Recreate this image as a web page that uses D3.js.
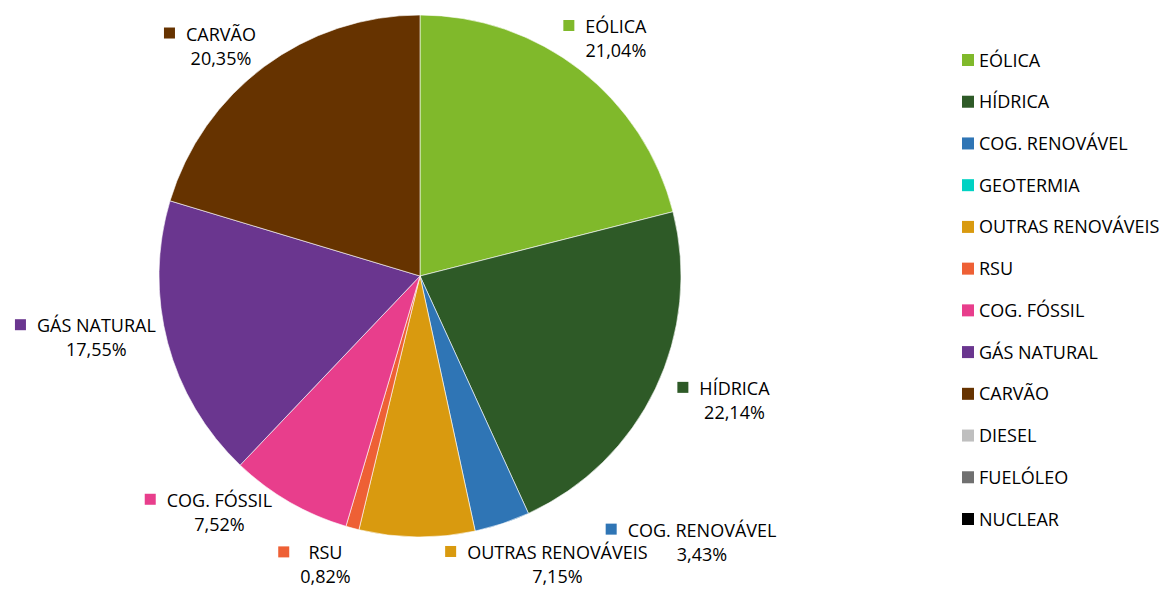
<!DOCTYPE html>
<html>
<head>
<meta charset="utf-8">
<script src="https://cdn.jsdelivr.net/npm/d3@7"></script>
<style>
  body { margin: 0; background: #fff; }
  svg { display: block; font-family: "Open Sans", sans-serif; }
</style>
</head>
<body>
<div class="pie_chart"></div>
<script>
let width = 1170
let height = 589

// fontes de energia e quota (%) na produção
let sources = ['EÓLICA', 'HÍDRICA', 'COG. RENOVÁVEL', 'GEOTERMIA', 'OUTRAS RENOVÁVEIS', 'RSU',
               'COG. FÓSSIL', 'GÁS NATURAL', 'CARVÃO', 'DIESEL', 'FUELÓLEO', 'NUCLEAR']
let shares  = [21.04, 22.14, 3.43, 0, 7.15, 0.82, 7.52, 17.55, 20.35, 0, 0, 0]
let colors  = ['#80b92b', '#2e5a27', '#2f75b5', '#00d2c3', '#d99a0f', '#ee6035',
               '#e83e8c', '#6a368f', '#663300', '#bfbfbf', '#707070', '#000000']

// excel moved the labels round to stop them overlapping
let labelNudge = {
    'EÓLICA': [-6, 8],
    'HÍDRICA': [23, -10],
    'COG. RENOVÁVEL': [173, -29],
    'OUTRAS RENOVÁVEIS': [130, -22.5],
    'RSU': [-25, -11.5],
    'COG. FÓSSIL': [-56, -33],
    'GÁS NATURAL': [-34, -18],
    'CARVÃO': [-24.5, 19.6]
}

let cx = 420
let cy = 276
let radius = 261

let locale = d3.formatLocale({ decimal: ",", thousands: ".", grouping: [3], currency: ["", "€"] })
let fmt = locale.format(".2f")

let color = d3.scaleOrdinal()
    .domain(sources)
    .range(colors)

let pie = d3.pie()
    .sort(null)
    .value(d => d.value)

let arc = d3.arc()
    .innerRadius(0)
    .outerRadius(radius)

let data = sources.map((name, i) => ({ name, value: shares[i] }))
let arcs = pie(data)

const svg = d3.create("svg")
    .attr("width", width)
    .attr("height", height)

const g = svg.append("g")
    .attr("transform", `translate(${cx},${cy})`)

g.selectAll("path")
    .data(arcs.filter(d => d.data.value > 0))
    .join("path")
    .attr("fill", d => color(d.data.name))
    .attr("stroke", "#ffffff")
    .attr("stroke-width", 0.6)
    .attr("d", arc)

d3.select(".pie_chart").node().append(svg.node())

// data labels
let labelArc = d3.arc()
    .innerRadius(radius + 50)
    .outerRadius(radius + 50)

const labels = g.append("g")
    .attr("font-size", 18)
    .attr("fill", "#000")
    .selectAll("g")
    .data(arcs.filter(d => d.data.value > 0))
    .join("g")

labels.each(function(d) {
    const lab = d3.select(this)
    const name = lab.append("text").text(d.data.name)
    const pct = lab.append("text").text(fmt(d.data.value) + "%")
    const tw = Math.max(name.node().getComputedTextLength(), pct.node().getComputedTextLength())
    const blockW = 22 + tw
    const [px, py] = labelArc.centroid(d)
    const nudge = labelNudge[d.data.name] || [0, 0]
    const bx = px + nudge[0] - blockW / 2   // left edge of marker
    const by = py + nudge[1]                // middle of the block
    const textMid = bx + 22 + tw / 2
    name.attr("x", textMid).attr("y", by - 5.5).attr("text-anchor", "middle")
    pct.attr("x", textMid).attr("y", by + 18.5).attr("text-anchor", "middle")
    lab.append("rect")
        .attr("x", bx)
        .attr("y", by - 5.5 - 13)
        .attr("width", 11)
        .attr("height", 11)
        .attr("fill", color(d.data.name))
})

// legend
let legendY = d3.scalePoint()
    .domain(sources)
    .range([60, 519])

const legend = svg.append("g")
    .attr("font-size", 18)
    .attr("fill", "#000")
    .selectAll("g")
    .data(sources)
    .join("g")
    .attr("transform", d => `translate(962,${legendY(d)})`)

legend.append("rect")
    .attr("x", 0)
    .attr("y", -6)
    .attr("width", 12)
    .attr("height", 12)
    .attr("fill", d => color(d))

legend.append("text")
    .attr("x", 17)
    .attr("y", 6.5)
    .text(d => d)
</script>
</body>
</html>
